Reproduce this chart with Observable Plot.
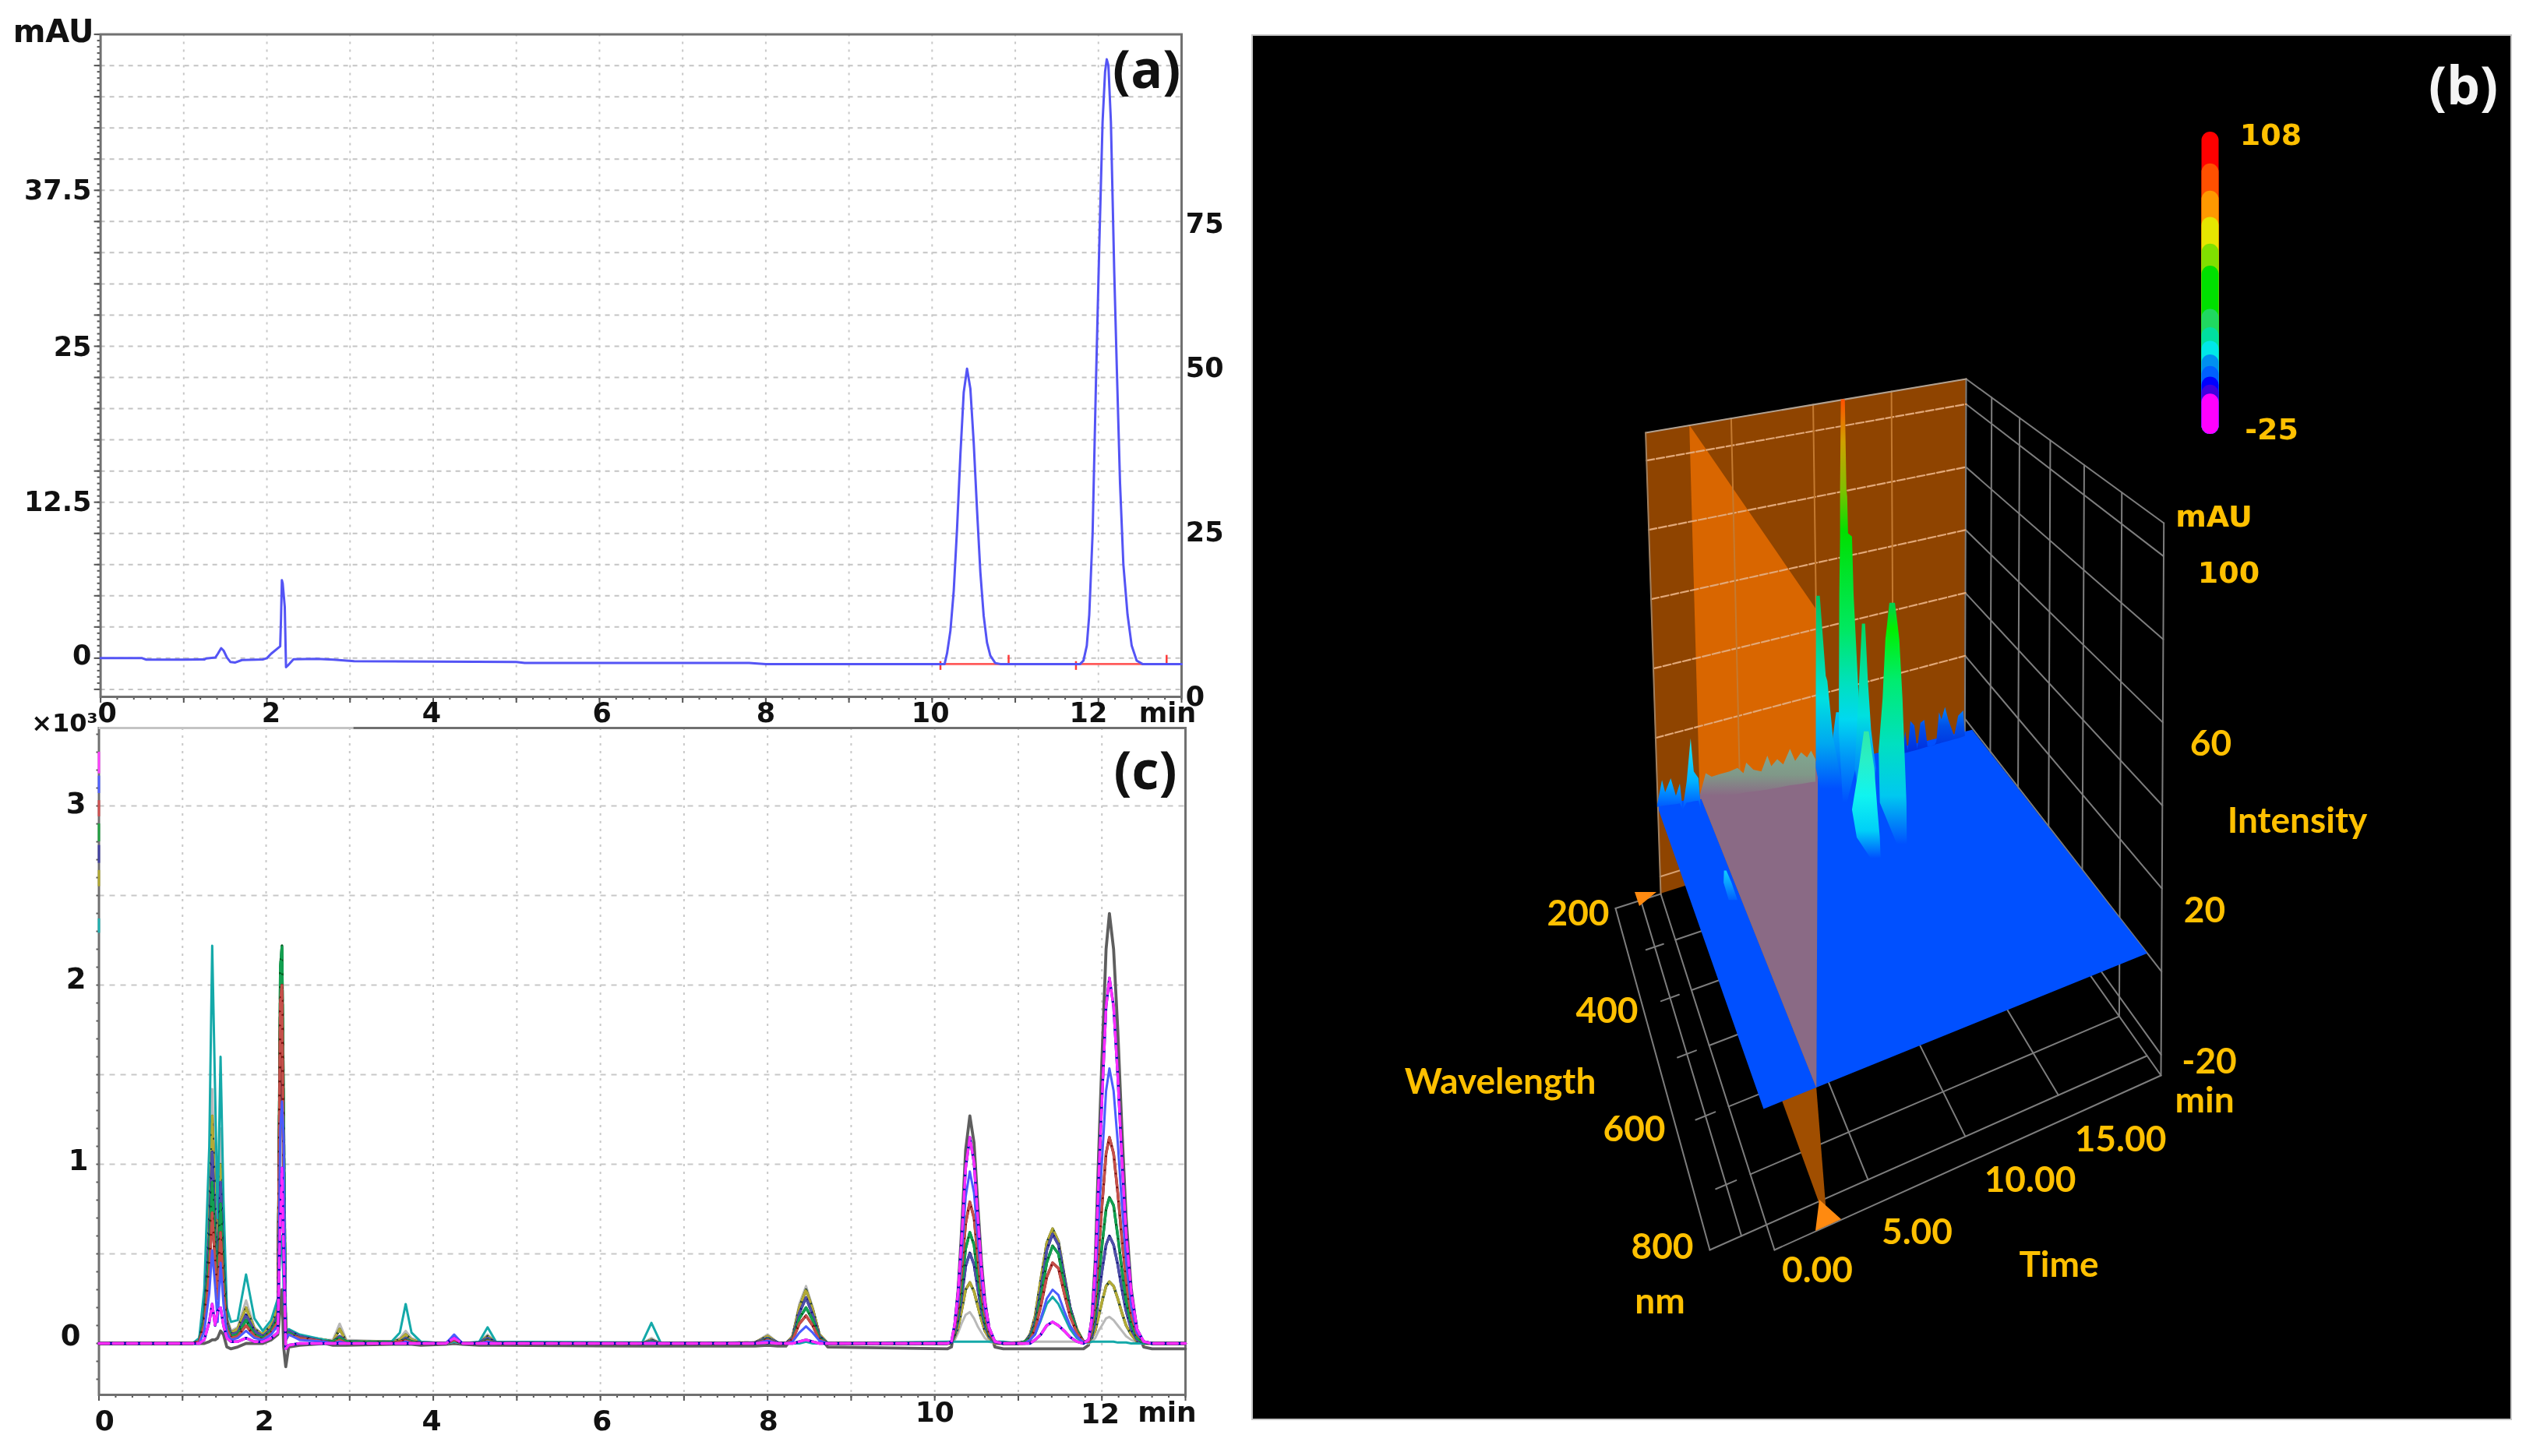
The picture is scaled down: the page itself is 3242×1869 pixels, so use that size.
<!DOCTYPE html>
<html>
<head>
<meta charset="utf-8">
<script src="https://cdn.jsdelivr.net/npm/d3@7"></script>
<script src="https://cdn.jsdelivr.net/npm/@observablehq/plot@0.6"></script>
<style>
html,body{margin:0;padding:0;background:#fff;}
#page{position:relative;width:3242px;height:1869px;overflow:hidden;background:#fff;}
#page svg{filter:blur(0.7px);}
</style>
</head>
<body>
<div id="page"></div>
<script>
// ---------- Panel (a): single chromatogram, mAU ----------
const aTime = [0,.5,.55,1.0,1.25,1.27,1.38,1.41,1.45,1.48,1.52,1.56,1.62,1.7,1.95,2.0,2.05,2.16,2.17,2.18,2.19,2.215,2.23,2.25,2.32,2.6,2.8,3.05,5.0,5.1,7.8,8.0,
  10.15,10.18,10.22,10.26,10.30,10.34,10.38,10.42,10.46,10.5,10.54,10.58,10.62,10.66,10.70,10.76,10.82,
  11.78,11.82,11.86,11.89,11.93,11.97,12.01,12.05,12.08,12.10,12.12,12.15,12.19,12.22,12.26,12.30,12.35,12.40,12.46,12.53,13];
const aSignal = [0,0,-.12,-.12,-.1,-.02,.05,.35,.8,.6,.05,-.3,-.35,-.15,-.1,0,.35,.95,3.2,6.25,6,4.1,-.72,-.6,-.08,-.05,-.12,-.25,-.3,-.38,-.38,-.47,
  -.47,.4,2.2,5.4,10.4,16.3,21.3,23.2,21.6,17.3,11.9,6.9,3.4,1.25,.2,-.4,-.47,
  -.47,-.2,1,3.5,10,22,33,43,47,48,47.5,43,31,23.5,14,7.5,3.5,1,-.2,-.47,-.47];
const aRedBase = [[10.1,10.92],[11.73,12.82]];
const aRedLevel = -.47;
const aLeftLabels = ["37.5","25","12.5","0"];
const aLeftValues = [37.44,24.9,12.5,.19];
const aRightLabels = ["75","50","25","0"];
const aRightValues = [34.8,23.25,10.06,-3.1];
const aXLabels = ["0","2","4","6","8","10","12","min"];
const aXValues = [.08,2.05,3.98,6.03,8,9.98,11.88,12.83];

// ---------- Panel (c): overlay of chromatograms, x10^3 ----------
const cEarly = [0,1.12,1.2,1.26,1.32,1.355,1.39,1.42,1.455,1.49,1.53,1.58,1.66,1.76,1.86,1.96,2.06,2.14,2.17,2.19,2.21,2.235,2.27,2.4,2.7];
const cSmall = [2.8,2.88,2.96,3.5,3.6,3.67,3.74,3.85,4.15,4.25,4.35,4.55,4.65,4.75,6.5,6.61,6.72,7.85,8.0,8.12];
const cP8 = [8.22,8.3,8.38,8.46,8.54,8.62,8.72];
const cP10 = [10.15,10.2,10.24,10.28,10.32,10.37,10.42,10.47,10.52,10.56,10.6,10.65,10.72,10.82];
const cP11 = [11.0,11.08,11.14,11.2,11.27,11.34,11.41,11.48,11.55,11.62,11.7,11.78];
const cP12 = [11.84,11.88,11.92,11.96,12.0,12.05,12.09,12.14,12.19,12.24,12.29,12.35,12.42,12.5,12.6,13];
const cTime = [...cEarly,...cSmall,...cP8,...cP10,...cP11,...cP12];

const sGray = [0,0,0,0,.01,.02,.02,.03,.07,.05,-.02,-.03,-.02,0,0,0,.02,.05,.2,.3,-.02,-.13,-.02,-.01,0,
  -.01,-.01,-.01,-.005,-.005,-.005,-.005,-.01,-.005,0,-.005,-.01,-.01,-.01,-.015,-.015,-.015,-.015,-.01,-.015,
  -.015,.04,.2,.3,.19,.04,-.02,
  -.03,-.02,.1,.3,.62,1.08,1.27,1.12,.74,.45,.24,.08,-.02,-.03,
  -.03,-.03,-.03,-.03,-.03,-.03,-.03,-.03,-.03,-.03,-.03,-.03,
  -.01,.14,.46,1.04,1.58,2.2,2.4,2.2,1.75,1.19,.7,.31,.07,-.02,-.03,-.03];
const sLightGray = [0,0,.02,.2,.8,1.42,.9,.5,1.2,.6,.15,.07,.09,.24,.09,.05,.11,.22,1.0,1.3,.7,.05,.07,.04,.02,
  .02,.11,.02,.01,.03,.07,.03,.01,0,.01,0,.005,.05,.005,0,.03,0,.005,.05,.005,
  0,.04,.22,.32,.2,.05,0,
  0,0,.02,.06,.11,.16,.175,.14,.09,.06,.03,.01,0,0,
  .01,.01,.01,.01,.01,.01,.01,.01,.01,.01,.01,.01,
  0,.01,.03,.07,.1,.14,.148,.13,.1,.07,.04,.02,.005,0,0,0];
const sOlive = [0,0,.02,.18,.7,1.27,.8,.45,1.0,.5,.13,.06,.08,.2,.08,.05,.1,.2,1.9,2.12,1.1,.05,.07,.04,.02,
  .01,.08,.01,.01,.02,.05,.02,.005,0,.02,0,.005,.04,.005,0,.02,0,.005,.04,.005,
  0,.04,.2,.30,.19,.05,0,
  0,0,.04,.09,.18,.3,.34,.29,.2,.13,.07,.03,0,0,
  0,.01,.05,.15,.36,.56,.64,.57,.38,.2,.08,.01,
  .01,.03,.07,.15,.23,.32,.344,.32,.25,.17,.1,.05,.01,0,0,0];
const sTeal = [0,0,.03,.3,1.1,2.22,1.4,.7,1.6,.8,.2,.12,.13,.385,.14,.07,.13,.25,.5,.6,.3,.05,.08,.05,.02,
  .01,.03,.01,.01,.06,.22,.06,.01,0,.01,0,.01,.09,.01,.005,.115,.005,0,.03,.005,
  0,0,0,.01,0,0,0,
  .01,.01,.01,.01,.01,.01,.01,.01,.01,.01,.01,.01,.01,.01,
  0,0,.02,.05,.13,.22,.26,.22,.15,.08,.03,.005,
  .005,.01,.01,.01,.01,.01,.01,.01,.005,.005,.005,0,0,0,0,0];
const sNavy = [0,0,.01,.15,.6,1.07,.65,.35,.9,.45,.12,.05,.06,.16,.07,.04,.08,.16,1.7,1.75,1.0,.04,.07,.04,.01,
  .01,.04,.01,.005,.01,.03,.01,.005,0,.04,0,.005,.03,.005,0,.015,0,.005,.03,.005,
  0,.03,.17,.255,.16,.04,0,
  0,.005,.05,.13,.25,.43,.505,.44,.29,.18,.1,.04,.005,0,
  0,.01,.04,.12,.3,.52,.61,.55,.37,.2,.07,.01,
  .01,.04,.12,.26,.4,.55,.6,.55,.44,.3,.18,.08,.02,.005,0,0];
const sGreen = [0,0,.01,.13,.5,.9,.55,.3,.78,.4,.1,.04,.05,.13,.05,.03,.07,.14,2.1,2.22,1.3,.03,.06,.03,.01,
  .01,.03,.01,.005,.01,.02,.01,0,0,.02,0,0,.02,0,0,.01,0,0,.025,0,
  0,.02,.14,.2,.13,.03,0,
  0,.01,.06,.16,.31,.53,.62,.55,.36,.22,.12,.05,.01,0,
  0,.01,.03,.1,.26,.45,.545,.5,.33,.18,.07,.01,
  .01,.06,.16,.36,.54,.75,.815,.77,.6,.41,.24,.11,.03,.005,0,0];
const sRed = [0,0,.01,.1,.4,.73,.45,.25,.62,.3,.08,.03,.04,.1,.04,.02,.06,.12,1.9,2.0,.9,.02,.05,.03,.01,
  0,.02,0,0,.01,.015,.005,0,0,.02,0,0,.015,0,0,.005,0,0,.02,0,
  0,.02,.11,.155,.1,.02,0,
  0,.01,.08,.2,.4,.67,.79,.7,.46,.28,.16,.06,.01,0,
  0,0,.02,.08,.21,.37,.45,.42,.28,.15,.06,.01,
  .01,.08,.23,.51,.76,1.06,1.15,1.06,.84,.58,.35,.16,.05,.01,0,0];
const sBlue = [0,0,0,.07,.28,.52,.32,.12,.45,.22,.06,.02,.03,.07,.03,.02,.05,.1,1.2,1.35,1.15,.02,.05,.02,.01,
  0,.01,0,0,0,.01,0,0,0,.05,0,0,.01,0,0,.005,0,0,.015,0,
  0,.01,.06,.095,.06,.015,0,
  0,.01,.1,.24,.48,.82,.96,.84,.56,.35,.19,.08,.01,0,
  0,0,.02,.05,.14,.25,.3,.27,.18,.1,.04,.005,
  .02,.11,.31,.68,1.01,1.41,1.535,1.41,1.12,.77,.46,.21,.06,.01,0,0];
const sMagenta = [0,0,0,.02,.12,.22,.1,.18,.2,.1,.03,.01,.01,.03,.01,.01,.03,.06,.7,.98,.5,-.03,-.01,0,0,
  0,0,0,0,0,0,0,0,0,.03,0,0,0,0,0,0,0,0,.005,0,
  0,0,.01,.02,.01,0,0,
  0,.01,.11,.29,.57,.98,1.15,1.01,.67,.41,.23,.09,.01,0,
  0,0,0,.02,.05,.1,.12,.1,.07,.035,.01,0,
  .02,.14,.41,.9,1.35,1.88,2.04,1.88,1.49,1.02,.61,.29,.08,.01,0,0];
const cSeriesNames = ["gray","lightgray","olive","teal","navy","green","red","blue","magenta"];
const cSeriesValues = [sGray,sLightGray,sOlive,sTeal,sNavy,sGreen,sRed,sBlue,sMagenta];
const cSeriesColors = ["#5e5e5e","#b9b9b9","#b3aa35","#14a9a9","#4f4fa8","#12a050","#c5504a","#4a5cff","#ff2cff"];
const cUnderColors = [null,null,"#20402a",null,"#10107a","#005a1e","#7a0a0a",null,"#0000b4"];
const cLegendColors = ["#ff40ff","#5060ff","#d05050","#20a040","#4040a0","#b0a830","#20b0b0"];
const cLegendFrom = [3.30,3.167,3.03,2.9,2.78,2.64,2.37];
const cLegendTo = [3.18,3.07,2.94,2.8,2.68,2.55,2.29];
const cYLabels = ["3","2","1","0"];
const cYValues = [3.01,2.03,1.017,.04];
const cYLabelX = [-.275,-.275,-.247,-.34];
const cXLabels = ["0","2","4","6","8","10","12","min"];
const cXValues = [.067,1.98,3.98,6.02,8.01,10,11.98,12.78];
const cXRow = [-.435,-.435,-.435,-.435,-.435,-.387,-.396,-.387];

// ---------- Panel (b): 3D view, time / wavelength / intensity ----------
const bTimeTicks = [5,10,15];
const bWaveGrid = [300,400,500,600,700,800];
const bLevels = [-20,0,20,40,60,80,100];
const bUpperLevels = [20,40,60,80,100];
const legendTops = [108,94,82,70.5,58.7,49,30,22,16,10,4.9,.2,-3.3,-7.3];
const legendColors = ["#ff0000","#ff5000","#ff9900","#e6e600","#80e000","#00e000","#20d860","#00e0a0","#00e8e8","#0090f0","#0060ff","#0000ff","#4000e0","#ff00ff"];
// projected silhouettes of the surface peaks: [row, left, right]
const peakG = [[1040,738,748],[1110,730,755],[1250,730,765]];
const peakA = [[705,688,697],[935,687,712],[950,687,716],[1110,687,730],[1200,687,745],[1300,705,765]];
const peakB = [[140,750,760],[400,748,764],[420,748,766],[525,748,768],[535,748,778],[700,746,782],[1000,745,795],[1100,745,810],[1300,755,765]];
const peakC = [[785,803,811],[950,796,818],[1090,790,826],[1200,785,838],[1320,800,830]];
const peakE = [[725,872,886],[790,866,893],[830,862,897],[1000,855,905],[1150,845,910],[1300,848,915],[1430,895,916]];
const peakD = [[1095,808,820],[1200,795,834],[1320,778,842],[1400,790,848],[1460,825,850]];
const peakSpot = [[1495,456,462],[1530,455,475],[1580,468,490]];
const peakAColors = [[705,"#00c060"],[850,"#00d890"],[1000,"#00e0e0"],[1130,"#00a8f0"],[1260,"#0050ff"]];
const peakGColors = [[1040,"#00c8f0"],[1150,"#0090f8"],[1250,"#0050ff"]];
const peakBColors = [[140,"#ff5000"],[260,"#d0a000"],[400,"#80c000"],[520,"#00e000"],[800,"#00e860"],[960,"#00e0c0"],[1060,"#00d8f0"],[1180,"#0090f8"],[1300,"#0050ff"]];
const peakCColors = [[785,"#00d860"],[920,"#00e0a0"],[1050,"#00e0e0"],[1200,"#0090f8"],[1320,"#0050ff"]];
const peakEColors = [[725,"#00d050"],[800,"#00f000"],[950,"#00ec70"],[1130,"#00e0c0"],[1280,"#00c8f0"],[1420,"#0050ff"]];
const peakDColors = [[1095,"#30e8a8"],[1180,"#28f0c8"],[1280,"#10f4f0"],[1380,"#00d0f8"],[1460,"#0050ff"]];
const peakSpotColors = [[1495,"#10d0ff"],[1580,"#0060ff"]];
// noise along the back edge: [column, top row, base row]
const noiseRight = [[905,1150,1158],[912,1095,1157],[918,1150,1155],[925,1065,1153],[935,1078,1150],[942,1145,1148],[950,1070,1145],[960,1062,1142],[968,1138,1139],[985,1135,1134],[990,1125,1132],[997,1040,1130],[1003,1060,1128],[1012,1025,1125],[1020,1060,1123],[1035,1108,1118],[1045,1050,1115],[1058,1035,1110],[1062,1105,1108]];
const noiseMid = [[395,1280,1290],[410,1215,1288],[425,1225,1285],[445,1218,1282],[470,1210,1278],[490,1200,1275],[505,1215,1272],[512,1185,1270],[530,1205,1268],[550,1210,1265],[565,1165,1262],[575,1195,1260],[590,1175,1257],[605,1190,1254],[622,1145,1250],[635,1180,1248],[650,1155,1246],[665,1170,1243],[675,1150,1241],[686,1175,1240]];
const noiseLeft = [[288,1305,1312],[300,1235,1310],[308,1270,1308],[322,1230,1306],[335,1280,1304],[345,1245,1302],[352,1318,1320],[362,1240,1300],[372,1115,1298],[380,1210,1296],[392,1230,1294],[398,1320,1322]];
const noiseRightColors = [[1020,"#0088ff"],[1080,"#0050e8"],[1150,"#0030e0"]];
const noiseMidColors = [[1150,"#80a890"],[1220,"#809888"],[1280,"#8a6a85"]];
const noiseLeftColors = [[1115,"#20e8f0"],[1240,"#00b0ff"],[1320,"#0050ff"]];
// slice-plane markers on the floor, in the panel's view units
const sliceMarkerX = [[2098,2126,2104],[2335,2363,2330]];
const sliceMarkerY = [[1145,1145,1163],[1540,1565,1580]];
const bOrangeLabels = ["60","Intensity","20","-20","min","15.00","10.00","5.00","0.00","Time","800","nm","600","400","200","Wavelength"];
const bOrangeX = [2837,2948,2829,2835,2829,2721,2605,2460,2332,2642,2133,2130,2097,2062,2025,1925];
const bOrangeY = [955,1054,1169,1363,1413,1463,1515,1582,1631,1624,1601,1671,1450,1298,1173,1389];
const bWideLabels = ["108","-25","mAU","100"];
const bWideX = [2914,2915,2841,2860];
const bWideY = [173,551,663,735];

// ---------- shared styling ----------
const BOLD = {fontFamily:"DejaVu Sans",fontWeight:700,fontSize:35,fill:"#111"};
const seq = (a,b,s) => { const r=[]; for(let i=0;Math.round((a+i*s)*1000)/1000<=b;i++) r.push(Math.round((a+i*s)*1000)/1000); return r; };
const major = seq(0,13,1), minor = seq(0,13,.2);
const page = document.getElementById("page");
const place = (left,top) => ({position:"absolute",left:left+"px",top:top+"px",background:"transparent",overflow:"visible"});

// ---------- panel (a) ----------
page.appendChild(Plot.plot({
  width:1560,height:930,marginLeft:128.6,marginRight:44,marginTop:43.6,marginBottom:36,
  style:place(0,0),
  x:{domain:[0,13],axis:null},y:{domain:[-3.1,50],axis:null},
  marks:[
    Plot.ruleY(seq(-2.5,47.5,2.5),{stroke:"#c4c4c4",strokeWidth:2,strokeDasharray:"6,6"}),
    Plot.ruleX(major.slice(1,13),{stroke:"#c8c8c8",strokeWidth:2,strokeDasharray:"3,7"}),
    Plot.axisX(minor,{anchor:"bottom",tickSize:4,fill:"none",label:null,stroke:"#555",strokeWidth:2}),
    Plot.axisX(major,{anchor:"bottom",tickSize:8,fill:"none",label:null,stroke:"#555",strokeWidth:2}),
    Plot.axisY(seq(-2.5,50,.5),{anchor:"left",tickSize:4,fill:"none",label:null,stroke:"#555",strokeWidth:2}),
    Plot.axisY(seq(-2.5,50,2.5),{anchor:"left",tickSize:8,fill:"none",label:null,stroke:"#555",strokeWidth:2}),
    Plot.frame({stroke:"#707070",strokeWidth:3}),
    Plot.line(aRedBase.flatMap((seg,i)=>seg.map(t=>({t,i}))),{x:"t",y:()=>aRedLevel,z:"i",stroke:"#ff5a5a",strokeWidth:2.8}),
    Plot.ruleX(aRedBase.map(s=>s[0]),{y1:aRedLevel-.5,y2:aRedLevel+.2,stroke:"#ff3a3a",strokeWidth:2.5}),
    Plot.ruleX(aRedBase.map(s=>s[1]),{y1:aRedLevel,y2:aRedLevel+.7,stroke:"#ff3a3a",strokeWidth:2.5}),
    Plot.line(aTime.map((t,i)=>({t,v:aSignal[i]})),{x:"t",y:"v",stroke:"#5454f5",strokeWidth:3}),
    Plot.text(["mAU"],{x:()=>-.08,y:()=>50.2,textAnchor:"end",...BOLD,fontSize:40}),
    Plot.text(aLeftLabels,{x:()=>-.11,y:(d,i)=>aLeftValues[i],textAnchor:"end",...BOLD}),
    Plot.text(aRightLabels,{x:()=>13.05,y:(d,i)=>aRightValues[i],textAnchor:"start",...BOLD}),
    Plot.text(aXLabels,{x:(d,i)=>aXValues[i],y:()=>-4.44,...BOLD}),
    Plot.text(["(a)"],{x:()=>12.58,y:()=>47.06,fontFamily:"Open Sans",fontWeight:700,fontSize:68,fill:"#111"})
  ]
}));

// ---------- panel (c) ----------
page.appendChild(Plot.plot({
  width:1560,height:969,marginLeft:126.5,marginRight:39,marginTop:34,marginBottom:79,
  style:place(0,900),
  x:{domain:[0,13],axis:null},y:{domain:[-.287,3.435],axis:null},
  marks:[
    Plot.ruleY([.5,1,1.5,2,2.5,3],{stroke:"#c8c8c8",strokeWidth:2,strokeDasharray:"7,7"}),
    Plot.ruleX(major.slice(1,13),{stroke:"#c8c8c8",strokeWidth:2,strokeDasharray:"3,7"}),
    Plot.axisX(minor,{anchor:"bottom",tickSize:4,fill:"none",label:null,stroke:"#555",strokeWidth:2}),
    Plot.axisX(major,{anchor:"bottom",tickSize:8,fill:"none",label:null,stroke:"#555",strokeWidth:2}),
    Plot.axisY(seq(-.2,3.4,.1),{anchor:"left",tickSize:3,fill:"none",label:null,stroke:"#555",strokeWidth:2}),
    Plot.frame({stroke:"#707070",strokeWidth:3}),
    Plot.ruleY([3.435],{x1:0,x2:3.05,stroke:"#c4c4c4",strokeWidth:3}),
    Plot.ruleX(cLegendFrom,{x:()=>0,y1:d=>d,y2:(d,i)=>cLegendTo[i],stroke:(d,i)=>cLegendColors[i],strokeWidth:3}),
    ...cSeriesValues.flatMap((vals,k)=>{
      const rows = cTime.map((t,i)=>({t,v:vals[i]}));
      const under = cUnderColors[k];
      return under
        ? [Plot.line(rows,{x:"t",y:"v",stroke:under,strokeWidth:3.4}),
           Plot.line(rows,{x:"t",y:"v",stroke:cSeriesColors[k],strokeWidth:3.4,strokeDasharray:"13,5"})]
        : [Plot.line(rows,{x:"t",y:"v",stroke:cSeriesColors[k],strokeWidth:k===0?3.8:3})];
    }),
    Plot.text(cYLabels,{x:(d,i)=>cYLabelX[i],y:(d,i)=>cYValues[i],...BOLD,fontSize:37}),
    Plot.text(["×10³"],{x:()=>-.014,y:()=>3.46,textAnchor:"end",...BOLD,fontSize:32}),
    Plot.text(cXLabels,{x:(d,i)=>cXValues[i],y:(d,i)=>cXRow[i],...BOLD,fontSize:36}),
    Plot.text(["(c)"],{x:()=>12.52,y:()=>3.19,fontFamily:"Open Sans",fontWeight:700,fontSize:68,fill:"#111"})
  ]
}));

// ---------- panel (b) ----------
const corners = {
  a000:[2131,1147],a100:[2521,1023],a110:[2773,1380],a010:[2277,1604],
  a001:[2111.6,555],a101:[2523,486],a111:[2776.7,671],a011:[2260,800]
};
function P(t,wl,z){
  const u0=t/20, u=u0*(1.09-.09*u0);
  const v0=(wl-200)/600, v=v0/(1+.35*(1-v0));
  const w=(z+25)/133;
  const mix=(i)=>{
    const b=(corners.a000[i]*(1-u)+corners.a100[i]*u)*(1-v)+(corners.a010[i]*(1-u)+corners.a110[i]*u)*v;
    const c=(corners.a001[i]*(1-u)+corners.a101[i]*u)*(1-v)+(corners.a011[i]*(1-u)+corners.a111[i]*u)*v;
    return b*(1-w)+c*w;
  };
  return {x:mix(0),y:mix(1)};
}
const seg3 = (id,...pts)=>pts.map(p=>({id,...P(...p)}));
const quad = (a,b,c,d)=>{ const A=P(...a),B=P(...b),C=P(...c),D=P(...d);
  return [{x1:A.x,y1:A.y,x2:D.x,y2:D.y},{x1:B.x,y1:B.y,x2:C.x,y2:C.y}]; };
const qm = (rows,fill)=>Plot.area(rows,{x1:"x1",y1:"y1",x2:"x2",y2:"y2",fill});
const lines = (pts,o)=>Plot.line(pts,{x:"x",y:"y",z:"id",...o});
const vx = zx=>1980+zx/1.96, vy = zy=>450+zy/2.24;
const T0=2.55;

const gradients = [["gA",peakAColors],["gG",peakGColors],["gB",peakBColors],["gC",peakCColors],["gE",peakEColors],["gD",peakDColors],["gS",peakSpotColors],["gR",noiseRightColors],["gM",noiseMidColors],["gL",noiseLeftColors]];
const gradientMark = (index,{y})=>{
  const g=d3.create("svg:g"), defs=g.append("defs");
  for(const [id,stops] of gradients){
    const y0=y(vy(stops[0][0])), y1=y(vy(stops[stops.length-1][0]));
    const lg=defs.append("linearGradient").attr("id",id).attr("gradientUnits","userSpaceOnUse")
      .attr("x1",0).attr("x2",0).attr("y1",y0).attr("y2",y1);
    for(const [zy,c] of stops) lg.append("stop").attr("offset",(y(vy(zy))-y0)/(y1-y0)).attr("stop-color",c);
  }
  return g.node();
};
const peak = (rows,id)=>Plot.area(rows,{x1:d=>vx(d[1]),y1:d=>vy(d[0]),x2:d=>vx(d[2]),y2:d=>vy(d[0]),fill:`url(#${id})`});
const noise = (rows,id)=>Plot.area(rows,{x1:d=>vx(d[0]),y1:d=>vy(d[1]),x2:d=>vx(d[0]),y2:d=>vy(d[2]),fill:`url(#${id})`});

const GREY="#7d7d7d";
const wallTop = bUpperLevels.map(z=>seg3("wt"+z,[0,200,z],[20,200,z])).flat();
const wallV = bTimeTicks.map(t=>seg3("wv"+t,[t,200,108],[t,200,3])).flat();
const rightH = [...bLevels,108,-25].map(z=>seg3("rh"+z,[20,200,z],[20,800,z])).flat();
const rightV = bWaveGrid.map(w=>seg3("rv"+w,[20,w,108],[20,w,-25])).flat();
const floorH = [300,400,500,600,700].map(w=>seg3("fh"+w,[0,w,-25],[20,w,-25])).flat();
const floorT = bTimeTicks.map(t=>seg3("ft"+t,[t,200,-25],[t,768,-25])).flat();
const frameLines = [
  ...seg3("f1",[0,800,-25],[20,800,-25]),
  ...seg3("f2",[-2.7,768,-25],[20,768,-25]),
  ...seg3("f3",[0,200,-25],[0,800,-25]),
  ...seg3("f4",[-2.7,200,-25],[-2.7,768,-25]),
  ...seg3("f5",[-2.7,200,-25],[0,200,-25]),
  ...seg3("f6",[-1.2,200,-25],[-1.2,768,-25]),
];
const waveTicks = [300,400,500,600,700].map(w=>seg3("wk"+w,[-1.7,w,-25],[-.7,w,-25])).flat();
const legendY = d3.scaleLinear([108,-25],[169,557]);
const markerRows = sliceMarkerX.map((xs,k)=>[{x1:xs[0],y1:sliceMarkerY[k][0],x2:xs[0],y2:sliceMarkerY[k][0]},{x1:xs[1],y1:sliceMarkerY[k][1],x2:xs[2],y2:sliceMarkerY[k][2]}]);
const bPlot = Plot.plot({
  width:1614,height:1775,marginLeft:0,marginRight:0,marginTop:0,marginBottom:0,
  style:{...place(1608,46),background:"#000",boxShadow:"0 0 0 2px #c8c8c8"},
  x:{domain:[1608,3222],range:[0,1614],axis:null},
  y:{domain:[46,1821],range:[0,1775],axis:null},
  marks:[
    gradientMark,
    qm(quad([0,200,108],[20,200,108],[20,200,-25],[0,200,-25]),"#8f4400"),
    lines(frameLines,{stroke:GREY,strokeWidth:2}),
    lines(floorH,{stroke:GREY,strokeWidth:2}),
    lines(floorT,{stroke:GREY,strokeWidth:2}),
    lines(waveTicks,{stroke:GREY,strokeWidth:2}),
    lines(rightH,{stroke:GREY,strokeWidth:2}),
    lines(rightV,{stroke:GREY,strokeWidth:2}),
    lines(seg3("back",[20,200,108],[20,200,-25]),{stroke:GREY,strokeWidth:2}),
    lines(seg3("w-20",[0,200,-20],[20,200,-20]),{stroke:"#d8a070",strokeWidth:2}),
    qm(quad([T0,200,-25],[T0,800,-25],[T0,768,0],[T0,200,0]),"#a04e00"),
    qm(quad([0,200,0],[20.5,203,-4],[20,768,0],[0,768,0]),"#0050ff"),
    qm(quad([T0,200,108],[T0,800,108],[T0,768,0],[T0,200,0]),"#d96600"),
    qm(quad([T0,200,0],[10,200,0],[T0,768,0],[T0,768,0]),"#8a6a85"),
    ...markerRows.map(rows=>qm(rows,"#ff8a10")),
    lines(wallTop,{stroke:"#e2a878",strokeWidth:2.2,strokeDasharray:"10,3"}),
    lines(wallV,{stroke:"#c47a30",strokeWidth:2}),
    lines(seg3("tp",[0,200,108],[20,200,108]),{stroke:"#b0a090",strokeWidth:2.2}),
    lines(seg3("lf",[0,200,108],[0,200,-25]),{stroke:"#a08060",strokeWidth:2}),
    noise(noiseMid,"gM"),
    noise(noiseRight,"gR"),
    noise(noiseLeft,"gL"),
    peak(peakSpot,"gS"),
    peak(peakG,"gG"),
    peak(peakA,"gA"),
    peak(peakB,"gB"),
    peak(peakC,"gC"),
    peak(peakE,"gE"),
    peak(peakD,"gD"),
    ...legendTops.map((v,i)=>Plot.ruleX([2836],{y1:()=>legendY(v)+11,y2:()=>546,stroke:legendColors[i],strokeWidth:22,strokeLinecap:"round"})),
    Plot.text(bOrangeLabels,{x:(d,i)=>bOrangeX[i],y:(d,i)=>bOrangeY[i],fontFamily:"Lato",fontWeight:700,fontSize:46,fill:"#ffc000"}),
    Plot.text(bWideLabels,{x:(d,i)=>bWideX[i],y:(d,i)=>bWideY[i],fontFamily:"DejaVu Sans",fontWeight:700,fontSize:38,fill:"#ffc000"}),
    Plot.text(["(b)"],{x:()=>3161,y:()=>112,fontFamily:"Open Sans",fontWeight:700,fontSize:68,fill:"#f4f4f4"})
  ]
});
page.appendChild(bPlot);
</script>
</body>
</html>
